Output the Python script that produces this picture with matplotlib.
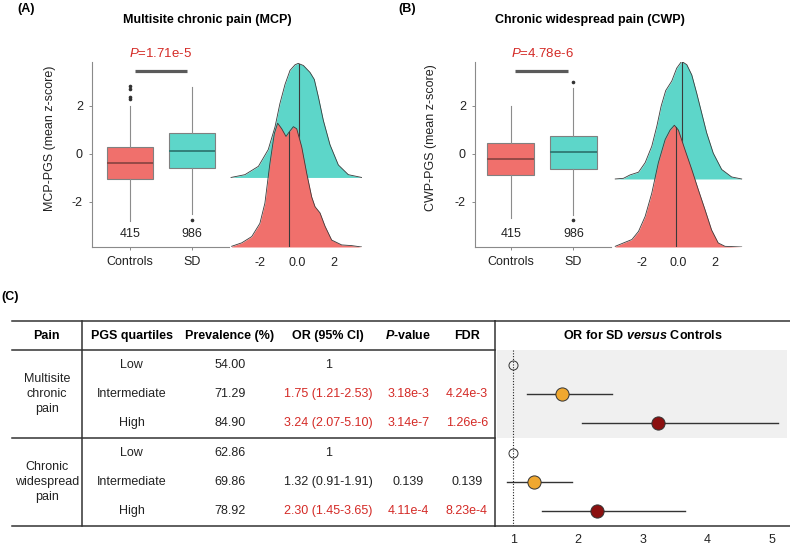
#!/usr/bin/env python3
"""
PGS in SD vs controls: box + ridge panels (A, B) and OR table / forest plot (C).
"""

import numpy as np
import matplotlib
matplotlib.use("Agg")
import matplotlib.pyplot as plt

plt.rcParams['font.family'] = 'Liberation Sans'
plt.rcParams['axes.unicode_minus'] = False
plt.rcParams['mathtext.fontset'] = 'custom'
plt.rcParams['mathtext.rm'] = 'Liberation Sans'
plt.rcParams['mathtext.it'] = 'Liberation Sans:italic'
plt.rcParams['mathtext.bf'] = 'Liberation Sans:bold'
plt.rcParams['mathtext.bfit'] = 'Liberation Sans:italic:bold'

# ---- panel A / B data ----
groups = ['Controls', 'SD']
group_n = [415, 986]

# box stats: q1, median, q3, lower whisker, upper whisker, outliers
mcp_box = [
    dict(q1=-1.03, med=-0.36, q3=0.29, whislo=-2.79, whishi=2.00, fliers=[2.28, 2.39, 2.71, 2.83]),
    dict(q1=-0.57, med=0.14, q3=0.86, whislo=-2.50, whishi=2.78, fliers=[-2.75]),
]
cwp_box = [
    dict(q1=-0.86, med=-0.21, q3=0.44, whislo=-2.68, whishi=2.00, fliers=[]),
    dict(q1=-0.61, med=0.10, q3=0.75, whislo=-2.54, whishi=2.74, fliers=[-2.76, 3.00]),
]
mcp_p = 'P=1.71e-5'
cwp_p = 'P=4.78e-6'

# ridge densities (height in units of ridge spacing)
mcp_ctrl_x = [-3.55, -3.0, -2.46, -2.02, -1.75, -1.48, -1.24, -1.06, -0.84, -0.61, -0.39, -0.21,
              -0.03, 0.24, 0.51, 0.78, 0.96, 1.23, 1.5, 1.86, 2.4, 2.94, 3.48]
mcp_ctrl_h = [0.01, 0.06, 0.15, 0.34, 0.63, 1.2, 1.63, 1.78, 1.7, 1.59, 1.67, 1.73,
              1.7, 1.44, 1.06, 0.72, 0.58, 0.49, 0.3, 0.1, 0.03, 0.02, 0.0]
mcp_sd_x = [-3.58, -2.83, -2.1, -1.57, -1.2, -0.94, -0.66, -0.39, -0.12, 0.05, 0.33, 0.69,
            0.92, 1.14, 1.41, 1.77, 2.22, 2.76, 3.48]
mcp_sd_h = [0.0, 0.04, 0.16, 0.40, 0.73, 1.06, 1.34, 1.54, 1.62, 1.64, 1.61, 1.51,
            1.41, 1.16, 0.82, 0.47, 0.18, 0.04, 0.0]
mcp_ridge_med = [-0.43, 0.09]

cwp_ctrl_x = [-3.44, -2.99, -2.53, -2.17, -1.81, -1.45, -1.09, -0.72, -0.45, -0.22, 0.0, 0.36,
              0.73, 1.09, 1.45, 1.81, 2.17, 2.54, 3.45]
cwp_ctrl_h = [0.01, 0.06, 0.11, 0.23, 0.45, 0.79, 1.24, 1.58, 1.72, 1.79, 1.72, 1.43,
              1.14, 0.84, 0.55, 0.25, 0.06, 0.01, 0.0]
cwp_sd_x = [-3.44, -2.99, -2.63, -2.17, -1.81, -1.45, -1.17, -0.94, -0.69, -0.36, -0.09, 0.18,
            0.46, 0.73, 1.0, 1.27, 1.54, 1.9, 2.36, 2.9, 3.45]
cwp_sd_h = [0.0, 0.01, 0.06, 0.10, 0.24, 0.48, 0.78, 1.07, 1.30, 1.44, 1.63, 1.73,
            1.68, 1.53, 1.26, 0.97, 0.68, 0.38, 0.14, 0.03, 0.0]
cwp_ridge_med = [-0.12, 0.18]

# ---- panel C data ----
pain_groups = ['Multisite\nchronic\npain', 'Chronic\nwidespread\npain']
quartiles = ['Low', 'Intermediate', 'High', 'Low', 'Intermediate', 'High']
prevalence = [54.00, 71.29, 84.90, 62.86, 69.86, 78.92]
odds_ratio = [1, 1.75, 3.24, 1, 1.32, 2.30]
ci_low = [None, 1.21, 2.07, None, 0.91, 1.45]
ci_high = [None, 2.53, 5.10, None, 1.91, 3.65]
p_values = ['', '3.18e-3', '3.14e-7', '', '0.139', '4.11e-4']
fdr_values = ['', '4.24e-3', '1.26e-6', '', '0.139', '8.23e-4']
significant = [False, True, True, False, False, True]
headers = ['Pain', 'PGS quartiles', 'Prevalence (%)', 'OR (95% CI)', r'$\mathbfit{P}$-value', 'FDR']

# colours
RED = '#F0706C'
CYAN = '#5DD6C9'
MED_COLS = ['#8E4644', '#2F7A73']
TXT_RED = '#D42A26'
Q_COLS = {'Low': 'white', 'Intermediate': '#F0A830', 'High': '#8B1010'}

W, H = 790, 548
fig = plt.figure(figsize=(W / 100, H / 100), dpi=100)


def rect(l, t, r, b):
    return [l / W, 1 - b / H, (r - l) / W, (b - t) / H]


def box_panel(ax, stats, p_text, ylabel, xlim, bar):
    for s, lab in zip(stats, groups):
        s['label'] = lab
    bp = ax.bxp(stats, positions=[1, 2], widths=0.75, patch_artist=True, showcaps=False,
                boxprops=dict(edgecolor='#808080', linewidth=0.8),
                whiskerprops=dict(color='#8c8c8c', linewidth=0.8),
                flierprops=dict(marker='o', markersize=1.6, markerfacecolor='#333333',
                                markeredgecolor='#333333'))
    for patch, col in zip(bp['boxes'], [RED, CYAN]):
        patch.set_facecolor(col)
    for med, col in zip(bp['medians'], MED_COLS):
        med.set_color(col)
        med.set_linewidth(1.3)
    ax.set_xlim(*xlim)
    ax.set_ylim(-3.875, 3.83)
    ax.set_yticks([-2, 0, 2])
    for sp in ['top', 'right']:
        ax.spines[sp].set_visible(False)
    for sp in ['left', 'bottom']:
        ax.spines[sp].set_color('#8a8a8a')
        ax.spines[sp].set_linewidth(0.8)
    ax.tick_params(length=2, width=0.7, color='#8a8a8a', labelsize=9, labelcolor='#222222', pad=4.5)
    ax.set_ylabel(ylabel, fontsize=9, color='#222222')
    for x, n in zip([1, 2], group_n):
        ax.text(x, -3.33, str(n), ha='center', va='center', fontsize=9, color='#222222')
    ax.plot(bar, [3.46, 3.46], color='#5a5a5a', linewidth=2.3, solid_capstyle='butt', clip_on=False)
    ax.text(1.5, 4.17, r'$\mathit{P}$' + p_text[1:], ha='center', va='center', fontsize=9.5,
            color=TXT_RED, clip_on=False)


def ridge_panel(ax, ctrl_x, ctrl_h, sd_x, sd_h, meds, xlim, ylim):
    # SD ridge (upper), then controls ridge in front
    for xs, hs, base, col, med, z in [(sd_x, sd_h, 1.0, CYAN, meds[1], 1),
                                      (ctrl_x, ctrl_h, 0.0, RED, meds[0], 3)]:
        xs = np.array(xs)
        top = base + np.array(hs)
        ax.fill_between(xs, base, top, color=col, linewidth=0, zorder=z)
        ax.plot(xs, top, color='#3a3a3a', linewidth=0.6, zorder=z + 0.5)
        ax.plot([med, med], [base, np.interp(med, xs, top)], color='#3a3a3a', linewidth=0.8,
                zorder=z + 0.6)
    ax.set_xlim(*xlim)
    ax.set_ylim(*ylim)
    ax.set_yticks([])
    ax.set_xticks([-2, 0, 2])
    ax.set_xticklabels(['-2', '0.0', '2'])
    ax.tick_params(length=0, labelsize=9, labelcolor='#222222', pad=7.5)
    for sp in ax.spines.values():
        sp.set_visible(False)
    ax.patch.set_alpha(0)


# panel A
axA = fig.add_axes(rect(92, 62, 229, 247))
box_panel(axA, mcp_box, mcp_p, 'MCP-PGS (mean z-score)', (0.39, 2.6), [1.08, 1.93])
axA.yaxis.set_label_coords(-0.263, 0.59)
axA_r = fig.add_axes(rect(229, 62, 362, 247))
ridge_panel(axA_r, mcp_ctrl_x, mcp_ctrl_h, mcp_sd_x, mcp_sd_h, mcp_ridge_med, (-3.69, 3.5), (0, 2.66))

# panel B
axB = fig.add_axes(rect(475, 62, 611, 247))
box_panel(axB, cwp_box, cwp_p, 'CWP-PGS (mean z-score)', (0.427, 2.6), [1.07, 1.92])
axB.yaxis.set_label_coords(-0.282, 0.59)
axB_r = fig.add_axes(rect(611, 62, 745, 247))
ridge_panel(axB_r, cwp_ctrl_x, cwp_ctrl_h, cwp_sd_x, cwp_sd_h, cwp_ridge_med, (-3.67, 3.63), (0, 2.72))

fig.text(26 / W, 1 - 9 / H, '(A)', fontsize=9, fontweight='bold', ha='center', va='center')
fig.text(207 / W, 1 - 20 / H, 'Multisite chronic pain (MCP)', fontsize=9, fontweight='bold',
         ha='center', va='center')
fig.text(407 / W, 1 - 9 / H, '(B)', fontsize=9, fontweight='bold', ha='center', va='center')
fig.text(590 / W, 1 - 20 / H, 'Chronic widespread pain (CWP)', fontsize=9, fontweight='bold',
         ha='center', va='center')
fig.text(10 / W, 1 - 297 / H, '(C)', fontsize=9, fontweight='bold', ha='center', va='center')

# panel C: table
LINE = '#333333'
axT = fig.add_axes(rect(0, 321, 495, 525.7))
axT.set_xlim(0, 495)
axT.set_ylim(5.5, -1.5)
axT.axis('off')
col_x = [46.7, 131.7, 230, 328.3, 408.3, 466.7]
for y in [-1.5, -0.5, 2.5, 5.5]:
    axT.plot([11.7, 495], [y, y], color=LINE, linewidth=1.1, clip_on=False)
axT.plot([82, 82], [-1.5, 5.5], color=LINE, linewidth=1.1, clip_on=False)
for x, h in zip(col_x, headers):
    axT.text(x, -1, h, ha='center', va='center', fontsize=9, fontweight='bold')
for i, g in enumerate(pain_groups):
    axT.text(col_x[0], 1 + 3 * i, g, ha='center', va='center', fontsize=9, color='#222222',
             linespacing=1.35)
for i in range(len(quartiles)):
    if ci_low[i] is None:
        or_txt = f'{odds_ratio[i]:g}'
    else:
        or_txt = f'{odds_ratio[i]:.2f} ({ci_low[i]:.2f}-{ci_high[i]:.2f})'
    col = TXT_RED if significant[i] else '#222222'
    row = [quartiles[i], f'{prevalence[i]:.2f}', or_txt, p_values[i], fdr_values[i]]
    for j, t in enumerate(row):
        axT.text(col_x[j + 1], i, t, ha='center', va='center', fontsize=9,
                 color=col if j >= 2 else '#222222')

# panel C: forest plot
axF = fig.add_axes(rect(495, 321, 790, 525.7))
axF.set_xlim(0.72, 5.28)
axF.set_ylim(5.5, -1.5)
axF.axhspan(-0.5, 2.5, xmin=0.006, xmax=0.99, color='#F0F0F0', linewidth=0, zorder=0)
axF.plot([1, 1], [-0.5, 5.5], color='#222222', linestyle=(0, (1, 1.5)), linewidth=0.8, zorder=1)
for i in range(len(quartiles)):
    if ci_low[i] is not None:
        axF.plot([ci_low[i], ci_high[i]], [i, i], color='#333333', linewidth=1.0, zorder=2)
        axF.plot(odds_ratio[i], i, 'o', markersize=9.5, markerfacecolor=Q_COLS[quartiles[i]],
                 markeredgecolor='#333333', markeredgewidth=0.7, zorder=3)
    else:
        axF.plot(odds_ratio[i], i, 'o', markersize=6.5, markerfacecolor='none',
                 markeredgecolor='#333333', markeredgewidth=0.7, zorder=3)
axF.text(0.5, -1, r'OR for SD $\mathbfit{versus}$ Controls', transform=axF.get_yaxis_transform(),
         ha='center', va='center', fontsize=9, fontweight='bold')
axF.set_xticks([1, 2, 3, 4, 5])
axF.set_yticks([])
axF.tick_params(length=0, labelsize=9, labelcolor='#222222', pad=6)
axF.spines['right'].set_visible(False)
for sp in ['top', 'bottom', 'left']:
    axF.spines[sp].set_color(LINE)
    axF.spines[sp].set_linewidth(1.1)
axF.patch.set_alpha(0)

fig.savefig('out.png', dpi=100)
